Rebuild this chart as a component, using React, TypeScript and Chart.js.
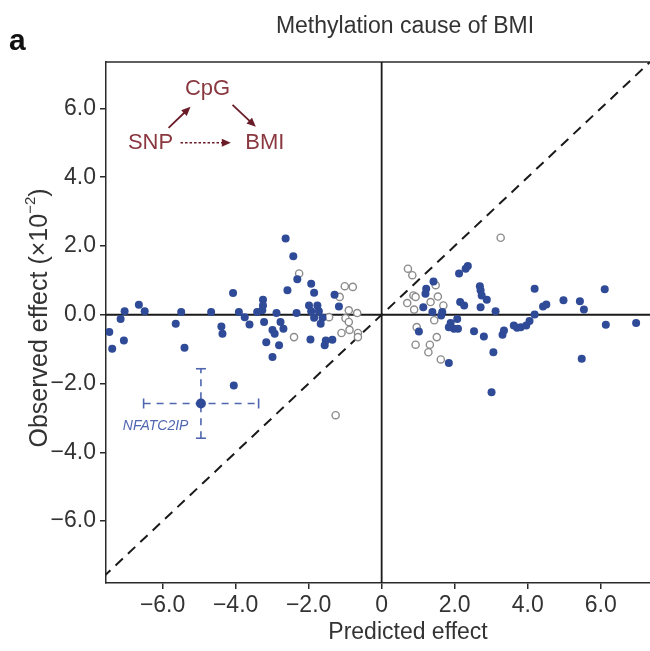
import { useEffect, useRef } from "react";
import { Chart, registerables } from "chart.js";

Chart.register(...registerables);

// Axis limits and ticks (observed effect in units of 1e-2)
const xLimits = [-7.55, 7.35];
const yLimits = [-7.8, 7.35];
const xTickValues = [-6, -4, -2, 0, 2, 4, 6];
const yTickValues = [-6, -4, -2, 0, 2, 4, 6];

// CpG sites with a significant causal estimate (filled markers)
const sigX = [
  -7.46, -7.38, -7.15, -7.04, -7.06, -6.65, -6.49, -5.64, -5.49, -5.4, -4.67, -4.39, -4.36, -4.07, -4.05,
  -3.91, -3.75, -3.62, -3.41, -3.25, -3.25, -3.27, -3.22, -3.16, -2.99, -2.99, -2.93, -2.88, -2.81, -2.77,
  -2.69, -2.63, -2.42, -2.31, -2.58, -1.93, -1.85, -1.29, -1.17, -2.33, -1.99, -1.93, -1.76, -1.72, -1.85,
  -1.62, -1.67, -1.95, -1.53, -1.35, -1.56,
  2.36, 2.3, 2.12, 1.42, 1.22, 1.2, 1.14, 1.39, 1.66, 1.63, 2.69, 2.71, 2.74, 2.88, 2.15, 2.26, 2.71, 3.12,
  4.19, 6.11, 2.07, 1.89, 1.84, 1.98, 2.09, 2.53, 2.8, 3.35, 3.31, 3.62, 3.71, 3.81, 3.96, 4.05, 4.19, 4.42,
  4.51, 4.98, 5.43, 5.54, 6.14, 6.97, 5.48, 3.06, 3.01, 1.84, 1.02,
];
const sigY = [
  -0.5, -0.99, -0.12, 0.1, -0.75, 0.29, 0.1, -0.26, 0.08, -0.96, 0.08, -0.34, -0.55, 0.63, -2.06,
  0.08, -0.07, -0.28, 0.08, 0.44, 0.27, 0.13, -0.21, -0.8, -1.23, -0.44, -0.55, 0.05, -0.89, -0.21,
  -0.41, 2.22, 1.7, 1.03, 0.71, 0.9, 0.64, 0.58, 0.24, 0.05, 0.27, 0.1, 0.27, 0.1, -0.09,
  -0.09, -0.26, -0.72, -0.75, -0.73, -0.89,
  1.42, 1.34, 1.2, 0.97, 0.76, 0.61, 0.22, 0.08, 0.08, -0.02, 0.83, 0.71, 0.56, 0.44, 0.37, 0.27, 0.22, 0.1,
  0.76, 0.74, -0.12, -0.24, -0.36, -0.41, -0.41, -0.48, -0.63, -0.46, -0.58, -0.31, -0.38, -0.36, -0.31, -0.18, 0.01, 0.24,
  0.3, 0.42, 0.39, 0.15, -0.29, -0.24, -1.28, -1.09, -2.25, -1.4, -0.49,
];

// CpG sites without a significant estimate (open markers)
const nsX = [
  -2.26, -1.15, -1.01, -0.79, -1.44, -0.9, -0.67, -0.99, -0.9, -1.1, -0.88, -0.65, -0.65, -2.4, -1.26,
  3.26, 0.72, 0.84, 1.48, 0.87, 0.93, 0.7, 0.89, 1.34, 1.54, 1.69, 1.44, 1.62, 0.96, 1.51, 0.93, 1.32, 1.28,
];
const nsY = [
  1.2, 0.52, 0.83, 0.81, -0.07, 0.13, 0.05, -0.1, -0.21, -0.53, -0.44, -0.53, -0.65, -0.65, -2.92,
  2.24, 1.34, 1.15, 0.86, 0.56, 0.52, 0.34, 0.15, 0.37, 0.53, 0.27, -0.16, -1.3, -0.36, -0.65, -0.87, -0.87, -1.09,
];

// Highlighted gene with its confidence intervals
const geneName = "NFATC2IP";
const geneX = -4.95;
const geneY = -2.58;
const geneXInterval = [-6.52, -3.37];
const geneYInterval = [-3.59, -1.57];

const FONT = "'Liberation Sans', Arial, Helvetica, sans-serif";
const INK = "#2a2a2a";
const BLUE = "#2f4a96";
const GENE_BLUE = "#4f66b0";
const DIAGRAM_TEXT = "#8a3840";
const DIAGRAM_ARROW = "#6a1c28";

const fmtTick = (v: number, zeroLabel: string) => {
  if (v === 0) return zeroLabel;
  return (v < 0 ? "\u2212" : "") + Math.abs(v).toFixed(1);
};

function arrowHead(ctx: CanvasRenderingContext2D, x0: number, y0: number, x1: number, y1: number, len: number, half: number) {
  const a = Math.atan2(y1 - y0, x1 - x0);
  ctx.beginPath();
  ctx.moveTo(x1, y1);
  ctx.lineTo(x1 - len * Math.cos(a) + half * Math.sin(a), y1 - len * Math.sin(a) - half * Math.cos(a));
  ctx.lineTo(x1 - len * Math.cos(a) - half * Math.sin(a), y1 - len * Math.sin(a) + half * Math.cos(a));
  ctx.closePath();
  ctx.fill();
}

const decorations = {
  id: "decorations",
  beforeDatasetsDraw(chart: any) {
    const { ctx, chartArea } = chart;
    ctx.save();
    ctx.strokeStyle = INK;
    ctx.lineWidth = 1.5;
    ctx.beginPath();
    ctx.moveTo(chartArea.left, chartArea.top);
    ctx.lineTo(chartArea.right, chartArea.top);
    ctx.stroke();
    ctx.restore();
  },
  afterDraw(chart: any) {
    const { ctx, scales } = chart;
    const xs = scales.x;
    const ys = scales.y;
    ctx.save();

    // panel letter and title
    ctx.fillStyle = "#111";
    ctx.font = `bold 30px ${FONT}`;
    ctx.textAlign = "left";
    ctx.textBaseline = "alphabetic";
    ctx.fillText("a", 9, 50);

    ctx.fillStyle = "#333";
    ctx.font = `23px ${FONT}`;
    ctx.textAlign = "center";
    ctx.textBaseline = "middle";
    ctx.fillText("Methylation cause of BMI", 405, 27);

    // axis titles
    ctx.font = `23px ${FONT}`;
    ctx.fillText("Predicted effect", 408, 633);
    ctx.save();
    ctx.translate(40, 318);
    ctx.rotate(-Math.PI / 2);
    const main = "Observed effect (\u00d710";
    const sup = "\u22122";
    ctx.font = `25px ${FONT}`;
    const wMain = ctx.measureText(main).width;
    ctx.font = `15px ${FONT}`;
    const wSup = ctx.measureText(sup).width;
    ctx.font = `25px ${FONT}`;
    const wClose = ctx.measureText(")").width;
    const total = wMain + wSup + wClose;
    let cx = -total / 2;
    ctx.textAlign = "left";
    ctx.fillText(main, cx, 0);
    cx += wMain;
    ctx.font = `15px ${FONT}`;
    ctx.fillText(sup, cx, -9);
    cx += wSup;
    ctx.font = `25px ${FONT}`;
    ctx.fillText(")", cx, 0);
    ctx.restore();

    // causal diagram
    const cpg = { x: xs.getPixelForValue(-4.77), y: ys.getPixelForValue(6.57) };
    const snp = { x: xs.getPixelForValue(-6.33), y: ys.getPixelForValue(5.0) };
    const bmi = { x: xs.getPixelForValue(-3.2), y: ys.getPixelForValue(5.0) };
    ctx.fillStyle = DIAGRAM_TEXT;
    ctx.font = `22px ${FONT}`;
    ctx.textAlign = "center";
    ctx.textBaseline = "middle";
    ctx.fillText("CpG", cpg.x, cpg.y);
    ctx.fillText("SNP", snp.x, snp.y);
    ctx.fillText("BMI", bmi.x, bmi.y);

    ctx.strokeStyle = DIAGRAM_ARROW;
    ctx.fillStyle = DIAGRAM_ARROW;
    ctx.lineWidth = 1.8;
    const solid = [
      [snp.x + 18, snp.y - 15, cpg.x - 17, cpg.y + 18],
      [cpg.x + 25, cpg.y + 16, bmi.x - 9, bmi.y - 16],
    ];
    solid.forEach(([a, b, c, d]) => {
      ctx.beginPath();
      ctx.moveTo(a, b);
      ctx.lineTo(c - (c - a) * 0.2, d - (d - b) * 0.2);
      ctx.stroke();
      arrowHead(ctx, a, b, c, d, 9, 4);
    });
    ctx.setLineDash([2.5, 2]);
    ctx.lineWidth = 1.4;
    ctx.beginPath();
    ctx.moveTo(snp.x + 30, snp.y);
    ctx.lineTo(bmi.x - 42, bmi.y);
    ctx.stroke();
    ctx.setLineDash([]);
    arrowHead(ctx, snp.x + 30, snp.y, bmi.x - 34, bmi.y, 9, 4);

    // gene label
    ctx.fillStyle = GENE_BLUE;
    ctx.font = `italic 14px ${FONT}`;
    ctx.textAlign = "center";
    ctx.fillText(geneName, xs.getPixelForValue(-6.19), ys.getPixelForValue(-3.23));

    ctx.restore();
  },
};

export default function App() {
  const canvasRef = useRef<HTMLCanvasElement | null>(null);

  useEffect(() => {
    document.body.style.margin = "0";
    const canvas = canvasRef.current;
    if (!canvas) return;

    const sigPoints = sigX.map((x, i) => ({ x, y: sigY[i] }));
    const nsPoints = nsX.map((x, i) => ({ x, y: nsY[i] }));
    const lineStyle = { type: "line" as const, showLine: true, pointRadius: 0, fill: false, tension: 0 };

    const chart = new Chart(canvas, {
      type: "scatter",
      data: {
        datasets: [
          {
            label: "gene",
            data: [{ x: geneX, y: geneY }],
            backgroundColor: BLUE,
            borderColor: BLUE,
            pointRadius: 5,
            borderWidth: 0,
            order: 0,
          },
          {
            label: "significant",
            data: sigPoints,
            backgroundColor: BLUE,
            borderColor: BLUE,
            pointRadius: 4,
            borderWidth: 0,
            order: 1,
          },
          {
            label: "not significant",
            data: nsPoints,
            backgroundColor: "#ffffff",
            borderColor: "#8c8c8c",
            pointRadius: 3.6,
            borderWidth: 1.4,
            order: 2,
          },
          {
            ...lineStyle,
            label: "gene x interval",
            data: geneXInterval.map((x) => ({ x, y: geneY })),
            borderColor: GENE_BLUE,
            borderWidth: 1.6,
            borderDash: [7, 6],
            pointRadius: 5,
            pointStyle: "line",
            pointRotation: 90,
            pointBorderColor: GENE_BLUE,
            pointBorderWidth: 1.6,
            order: 3,
          },
          {
            ...lineStyle,
            label: "gene y interval",
            data: geneYInterval.map((y) => ({ x: geneX, y })),
            borderColor: GENE_BLUE,
            borderWidth: 1.6,
            borderDash: [7, 6],
            pointRadius: 5,
            pointStyle: "line",
            pointRotation: 0,
            pointBorderColor: GENE_BLUE,
            pointBorderWidth: 1.6,
            order: 4,
          },
          {
            ...lineStyle,
            label: "identity",
            data: [
              { x: -10, y: -10 },
              { x: 10, y: 10 },
            ],
            borderColor: "#1a1a1a",
            borderWidth: 2,
            borderDash: [10, 7],
            order: 5,
          },
          {
            ...lineStyle,
            label: "zero x",
            data: [
              { x: -10, y: 0 },
              { x: 10, y: 0 },
            ],
            borderColor: "#1a1a1a",
            borderWidth: 1.8,
            order: 6,
          },
          {
            ...lineStyle,
            label: "zero y",
            data: [
              { x: 0, y: -10 },
              { x: 0, y: 10 },
            ],
            borderColor: "#1a1a1a",
            borderWidth: 1.8,
            order: 7,
          },
        ] as any,
      },
      options: {
        animation: false,
        responsive: false,
        devicePixelRatio: 1,
        layout: { autoPadding: false, padding: { top: 62, left: 0, right: 0, bottom: 0 } },
        plugins: {
          legend: { display: false },
          tooltip: { enabled: false },
          title: { display: false },
        },
        scales: {
          x: {
            type: "linear",
            min: xLimits[0],
            max: xLimits[1],
            afterBuildTicks: (s: any) => {
              s.ticks = xTickValues.map((value) => ({ value }));
            },
            afterFit: (s: any) => {
              s.height = 68;
              s.paddingLeft = 0;
              s.paddingRight = 0;
            },
            grid: { drawOnChartArea: false, drawTicks: true, tickLength: 6, color: INK, lineWidth: 1.5 },
            border: { display: true, color: INK, width: 1.5 },
            ticks: {
              color: "#333",
              font: { family: FONT, size: 23 },
              padding: 3,
              maxRotation: 0,
              autoSkip: false,
              callback: (v: any) => fmtTick(Number(v), "0"),
            },
          },
          y: {
            type: "linear",
            min: yLimits[0],
            max: yLimits[1],
            afterBuildTicks: (s: any) => {
              s.ticks = yTickValues.map((value) => ({ value }));
            },
            afterFit: (s: any) => {
              s.width = 106;
              s.paddingTop = 0;
              s.paddingBottom = 0;
            },
            grid: { drawOnChartArea: false, drawTicks: true, tickLength: 6, color: INK, lineWidth: 1.5 },
            border: { display: true, color: INK, width: 1.5 },
            ticks: {
              color: "#333",
              font: { family: FONT, size: 23 },
              padding: 4,
              autoSkip: false,
              callback: (v: any) => fmtTick(Number(v), "0.0"),
            },
          },
        },
      } as any,
      plugins: [decorations],
    });

    return () => chart.destroy();
  }, []);

  return (
    <div style={{ position: "absolute", left: 0, top: 0, width: 650, height: 651, background: "#fff" }}>
      <canvas ref={canvasRef} width={650} height={651} style={{ width: 650, height: 651, display: "block" }} />
    </div>
  );
}
